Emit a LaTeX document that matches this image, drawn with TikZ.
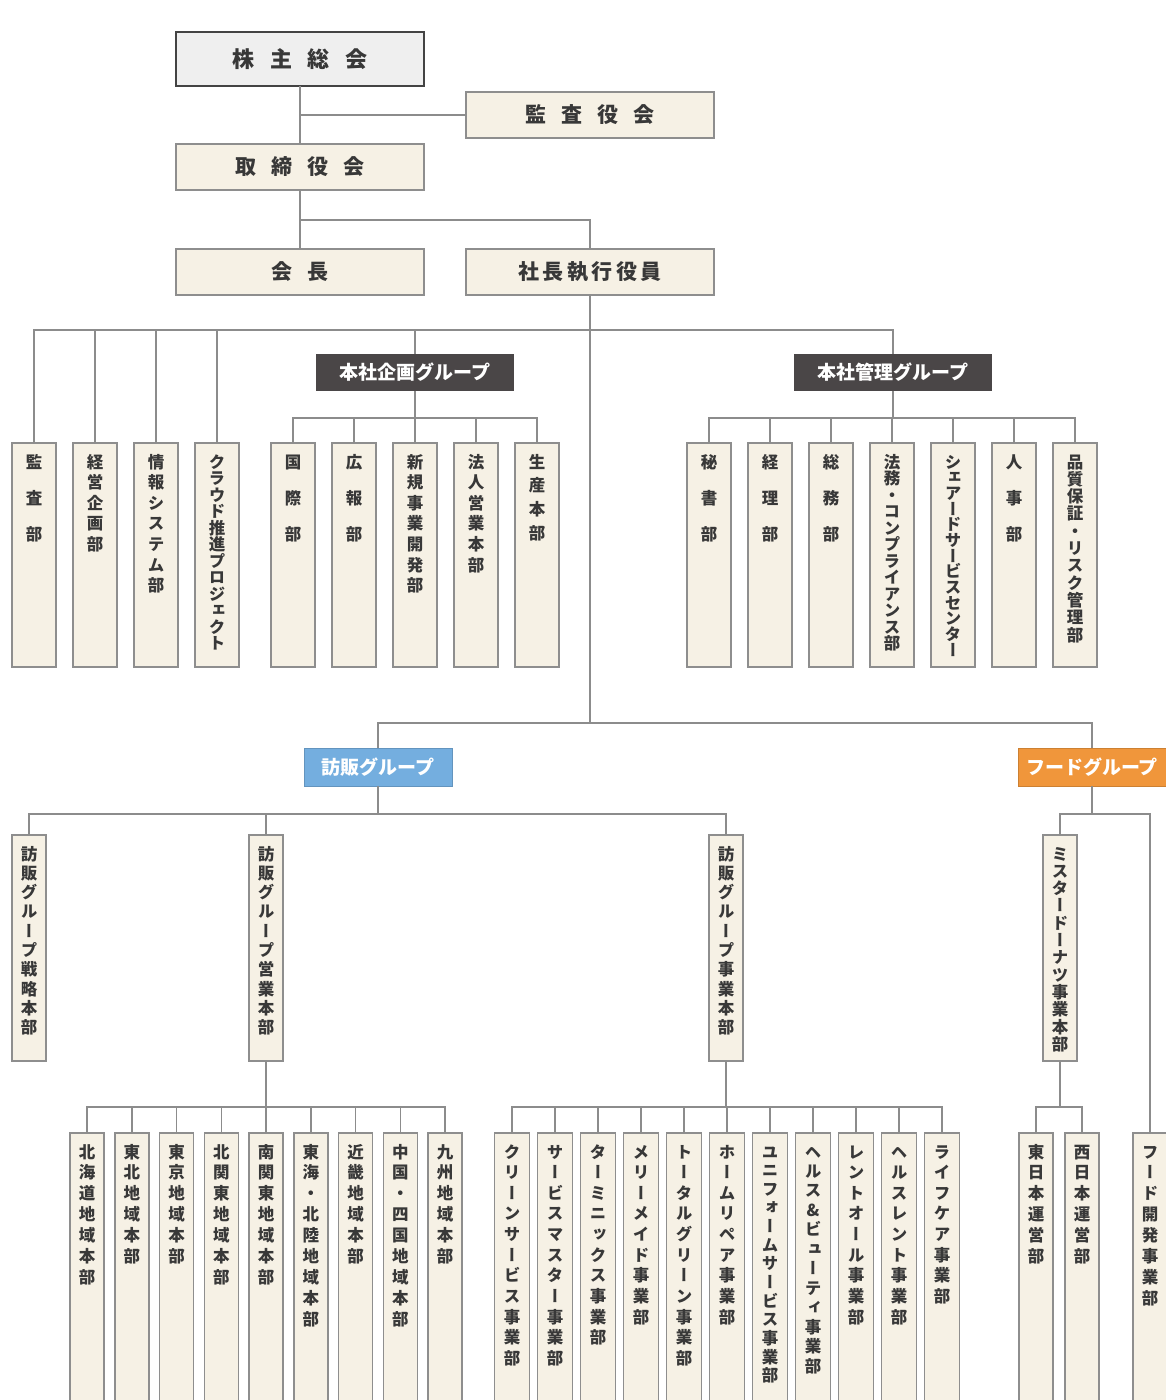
\documentclass[tikz,border=0pt]{standalone}
\usepackage{fontspec}
\usepackage{tikz,xcolor}
\usetikzlibrary{positioning}
\newfontfamily\jp{Noto Sans CJK JP}
\newfontfamily\jpv[RawFeature=+vert]{Noto Sans CJK JP}
\definecolor{cream}{HTML}{F6F1E5}
\definecolor{boxline}{HTML}{8E8E8E}
\definecolor{linec}{HTML}{8C8C8C}
\definecolor{ink}{HTML}{383838}
\definecolor{topgray}{HTML}{EFEFEF}
\definecolor{kabuline}{HTML}{434343}
\definecolor{darkgrp}{HTML}{4A4647}
\definecolor{bluegrp}{HTML}{74AEDF}
\definecolor{orangegrp}{HTML}{F0963B}
\makeatletter
\newcommand\tate[2][1.3]{\vtop{\baselineskip=#1em\lineskiplimit=-\maxdimen\lineskip=0pt\@tfor\tch:=#2\do{\hbox to 1em{\hss\tch\hss}}}}
\makeatother
\newcommand\aki{\hspace{.7em}}
\tikzset{
  conn/.style={draw=linec, line width=1.5pt},
  board/.style={draw=boxline, line width=1.5pt, outer sep=0pt, fill=cream, text=ink, minimum width=248pt, minimum height=46pt, inner sep=0pt, font=\jp\bfseries\fontsize{21}{24}\selectfont},
  group/.style={outer sep=0pt, inner sep=0pt, minimum height=37pt, text=white, font=\jp\bfseries\fontsize{19}{21}\selectfont},
  dept/.style={draw=boxline, line width=1.5pt, outer sep=0pt, fill=cream, text=ink, anchor=north, inner sep=0pt, minimum width=44pt, text height=25pt, text depth=199pt, font=\jpv\bfseries\fontsize{16.5}{16.5}\selectfont},
  unit/.style={dept, minimum width=34pt, text depth=201pt},
  branch/.style={dept, minimum width=34pt, text depth=300pt},
}
\begin{document}
\begin{tikzpicture}[x=1pt,y=-1pt]
    \clip (0,0) rectangle (1166,1400);
    \fill[white] (0,0) rectangle (1166,1400);
    % top of the chart
    \node (kabu) [board, fill=topgray, draw=kabuline, line width=2.5pt, minimum height=54pt, font=\jp\bfseries\fontsize{22}{24}\selectfont] at (300,59) {株\aki 主\aki 総\aki 会};
    \node (kansa) [board] at (590,115) {監\aki 査\aki 役\aki 会};
    \node (torishimari) [board] at (300,167) {取\aki 締\aki 役\aki 会};
    \node (kaicho) [board] at (300,272) {会\aki 長};
    \node (shacho) [board] at (590,272) {社\,長\,執\,行\,役\,員};
    % groups
    \node (kikaku) [group, fill=darkgrp, minimum width=198pt] at (415,372) {本社企画グループ};
    \node (kanri) [group, fill=darkgrp, minimum width=198pt] at (893,372) {本社管理グループ};
    \node (houhan) [group, fill=bluegrp, draw=bluegrp!85!black, minimum width=148pt, minimum height=38pt] at (378,767) {訪販グループ};
    \node (food) [group, fill=orangegrp, draw=orangegrp!85!black, minimum width=148pt, minimum height=38pt] at (1092,767) {フードグループ};
    % head office departments
    \node (kansabu) [dept] at (34,443) {\tate[2.2]{監査部}};
    \node (keiei) [dept, right=17pt of kansabu] {\tate[1.25]{経営企画部}};
    \node (joho) [dept, right=17pt of keiei] {\tate[1.25]{情報システム部}};
    \node (cloud) [dept, right=17pt of joho] {\tate[1.0]{クラウド推進プロジェクト}};
    \node (kokusai) [dept, right=32pt of cloud] {\tate[2.2]{国際部}};
    \node (koho) [dept, right=17pt of kokusai] {\tate[2.2]{広報部}};
    \node (shinki) [dept, right=17pt of koho] {\tate[1.25]{新規事業開発部}};
    \node (hojin) [dept, right=17pt of shinki] {\tate[1.25]{法人営業本部}};
    \node (seisan) [dept, right=17pt of hojin] {\tate[1.45]{生産本部}};
    \node (hisho) [dept] at (709,443) {\tate[2.2]{秘書部}};
    \node (keiri) [dept, right=17pt of hisho] {\tate[2.2]{経理部}};
    \node (somu) [dept, right=17pt of keiri] {\tate[2.2]{総務部}};
    \node (homu) [dept, right=17pt of somu] {\tate[1.0]{法務・コンプライアンス部}};
    \node (shared) [dept, right=17pt of homu] {\tate[0.95]{シェアードサービスセンター}};
    \node (jinji) [dept, right=17pt of shared] {\tate[2.2]{人事部}};
    \node (hinshitsu) [dept, right=17pt of jinji] {\tate[1.05]{品質保証・リスク管理部}};
    % business units
    \node (senryaku) [unit] at (29,835) {\tate[1.17]{訪販グループ戦略本部}};
    \node (eigyo) [unit] at (266,835) {\tate[1.17]{訪販グループ営業本部}};
    \node (jigyo) [unit] at (726,835) {\tate[1.17]{訪販グループ事業本部}};
    \node (mister) [unit] at (1060,835) {\tate[1.05]{ミスタードーナツ事業本部}};
    % regional offices
    \node (hokkaido) [branch] at (87,1133) {\tate[1.27]{北海道地域本部}};
    \node (tohoku) [branch, right=10.75pt of hokkaido] {\tate[1.27]{東北地域本部}};
    \node (tokyo) [branch, right=10.75pt of tohoku] {\tate[1.27]{東京地域本部}};
    \node (kitakanto) [branch, right=10.75pt of tokyo] {\tate[1.27]{北関東地域本部}};
    \node (minamikanto) [branch, right=10.75pt of kitakanto] {\tate[1.27]{南関東地域本部}};
    \node (tokai) [branch, right=10.75pt of minamikanto] {\tate[1.27]{東海・北陸地域本部}};
    \node (kinki) [branch, right=10.75pt of tokai] {\tate[1.27]{近畿地域本部}};
    \node (chugoku) [branch, right=10.75pt of kinki] {\tate[1.27]{中国・四国地域本部}};
    \node (kyushu) [branch, right=10.75pt of chugoku] {\tate[1.27]{九州地域本部}};
    % service businesses
    \node (clean) [branch, minimum width=35pt] at (512,1133) {\tate[1.25]{クリーンサービス事業部}};
    \node (smaster) [branch, minimum width=35pt, right=8pt of clean] {\tate[1.25]{サービスマスター事業部}};
    \node (terminix) [branch, minimum width=35pt, right=8pt of smaster] {\tate[1.25]{ターミニックス事業部}};
    \node (merry) [branch, minimum width=35pt, right=8pt of terminix] {\tate[1.25]{メリーメイド事業部}};
    \node (tgreen) [branch, minimum width=35pt, right=8pt of merry] {\tate[1.25]{トータルグリーン事業部}};
    \node (repair) [branch, minimum width=35pt, right=8pt of tgreen] {\tate[1.25]{ホームリペア事業部}};
    \node (uniform) [branch, minimum width=35pt, right=8pt of repair] {\tate[1.13]{ユニフォームサービス事業部}};
    \node (beauty) [branch, minimum width=35pt, right=8pt of uniform] {\tate[1.18]{ヘルス\&ビューティ事業部}};
    \node (rentall) [branch, minimum width=35pt, right=8pt of beauty] {\tate[1.25]{レントオール事業部}};
    \node (hrent) [branch, minimum width=35pt, right=8pt of rentall] {\tate[1.25]{ヘルスレント事業部}};
    \node (lifecare) [branch, minimum width=35pt, right=8pt of hrent] {\tate[1.25]{ライフケア事業部}};
    % food
    \node (higashi) [branch] at (1036,1133) {\tate[1.27]{東日本運営部}};
    \node (nishi) [branch, right=12pt of higashi] {\tate[1.27]{西日本運営部}};
    \node (fooddev) [branch] at (1150,1133) {\tate[1.27]{フード開発事業部}};
    % connect the nodes
    \coordinate (tbus) at (300,220);
    \coordinate (hq) at (590,330);
    \coordinate (kbus) at (415,418);
    \coordinate (mbus) at (893,418);
    \coordinate (ops) at (590,723);
    \coordinate (hbus) at (378,814);
    \coordinate (fbus) at (1092,814);
    \coordinate (ebus) at (266,1107);
    \coordinate (jbus) at (726,1107);
    \coordinate (dbus) at (1060,1107);
    \draw[conn] (kabu) -- (torishimari);
    \draw[conn] (kabu.south |- kansa.west) -- (kansa.west);
    \draw[conn] (torishimari) -- (kaicho);
    \draw[conn] (tbus) -| (shacho.north);
    \draw[conn] (shacho.south) -- (ops);
    \draw[conn] (kansabu.north) |- (hq);
    \draw[conn] (keiei.north) |- (hq);
    \draw[conn] (joho.north) |- (hq);
    \draw[conn] (cloud.north) |- (hq);
    \draw[conn] (kikaku.north) |- (hq);
    \draw[conn] (kanri.north) |- (hq);
    \draw[conn] (kikaku.south) -- (kbus);
    \draw[conn] (kokusai.north) |- (kbus);
    \draw[conn] (koho.north) |- (kbus);
    \draw[conn] (shinki.north) |- (kbus);
    \draw[conn] (hojin.north) |- (kbus);
    \draw[conn] (seisan.north) |- (kbus);
    \draw[conn] (kanri.south) -- (mbus);
    \draw[conn] (hisho.north) |- (mbus);
    \draw[conn] (keiri.north) |- (mbus);
    \draw[conn] (somu.north) |- (mbus);
    \draw[conn] (homu.north) |- (mbus);
    \draw[conn] (shared.north) |- (mbus);
    \draw[conn] (jinji.north) |- (mbus);
    \draw[conn] (hinshitsu.north) |- (mbus);
    \draw[conn] (houhan.north) |- (ops);
    \draw[conn] (food.north) |- (ops);
    \draw[conn] (houhan.south) -- (hbus);
    \draw[conn] (senryaku.north) |- (hbus);
    \draw[conn] (eigyo.north) |- (hbus);
    \draw[conn] (jigyo.north) |- (hbus);
    \draw[conn] (food.south) -- (fbus);
    \draw[conn] (mister.north) |- (fbus);
    \draw[conn] (fooddev.north) |- (fbus);
    \draw[conn] (eigyo.south) -- (ebus);
    \draw[conn] (hokkaido.north) |- (ebus);
    \draw[conn] (tohoku.north) |- (ebus);
    \draw[conn] (tokyo.north) |- (ebus);
    \draw[conn] (kitakanto.north) |- (ebus);
    \draw[conn] (minamikanto.north) |- (ebus);
    \draw[conn] (tokai.north) |- (ebus);
    \draw[conn] (kinki.north) |- (ebus);
    \draw[conn] (chugoku.north) |- (ebus);
    \draw[conn] (kyushu.north) |- (ebus);
    \draw[conn] (jigyo.south) -- (jbus);
    \draw[conn] (clean.north) |- (jbus);
    \draw[conn] (smaster.north) |- (jbus);
    \draw[conn] (terminix.north) |- (jbus);
    \draw[conn] (merry.north) |- (jbus);
    \draw[conn] (tgreen.north) |- (jbus);
    \draw[conn] (repair.north) |- (jbus);
    \draw[conn] (uniform.north) |- (jbus);
    \draw[conn] (beauty.north) |- (jbus);
    \draw[conn] (rentall.north) |- (jbus);
    \draw[conn] (hrent.north) |- (jbus);
    \draw[conn] (lifecare.north) |- (jbus);
    \draw[conn] (mister.south) -- (dbus);
    \draw[conn] (higashi.north) |- (dbus);
    \draw[conn] (nishi.north) |- (dbus);
\end{tikzpicture}
\end{document}
